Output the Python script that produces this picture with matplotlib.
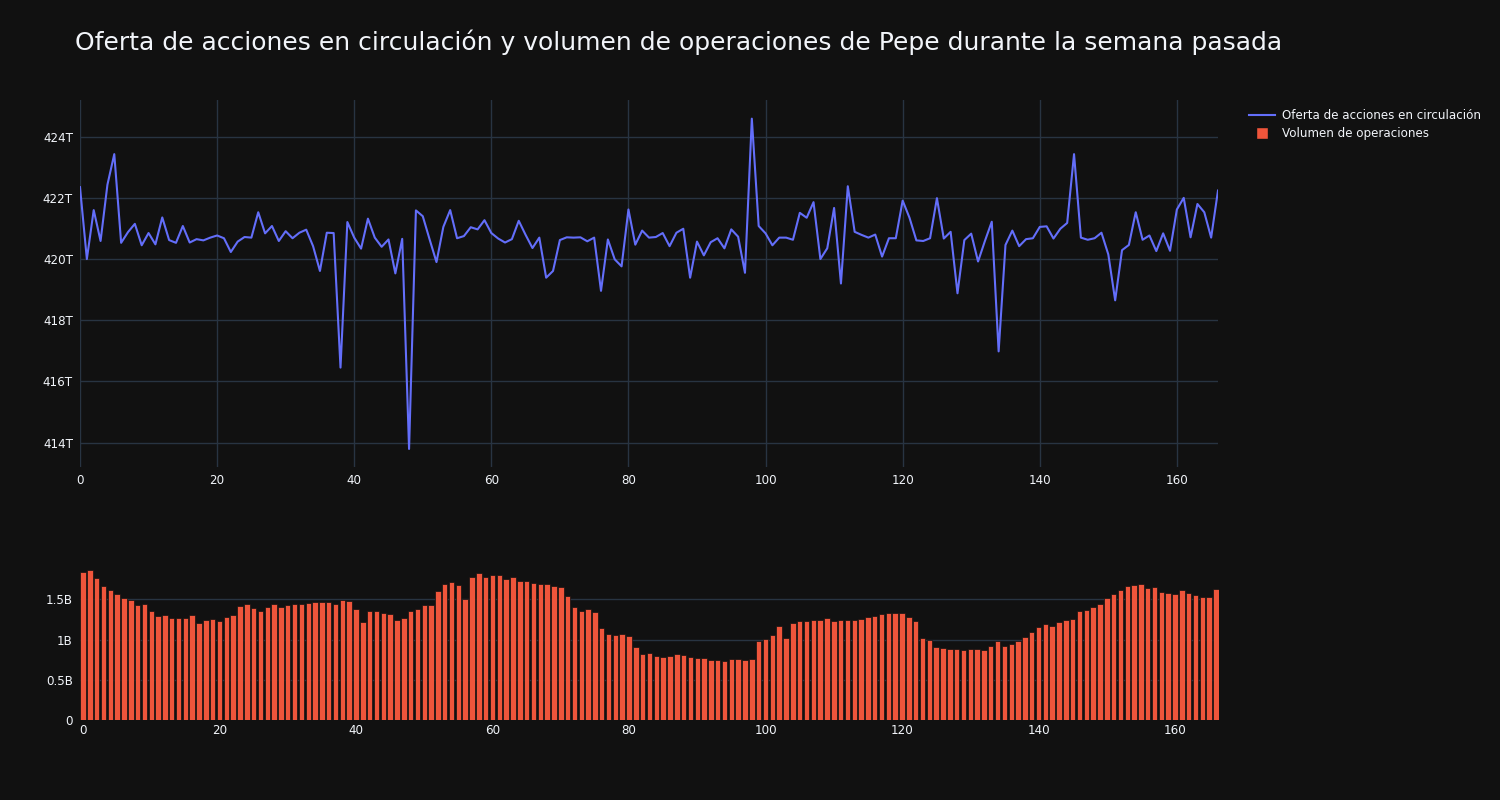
import matplotlib
matplotlib.use("Agg")
import matplotlib.pyplot as plt
from matplotlib.lines import Line2D
from matplotlib.ticker import FuncFormatter
import numpy as np

TITLE = "Oferta de acciones en circulación y volumen de operaciones de Pepe durante la semana pasada"
LINE_LABEL = "Oferta de acciones en circulación"
BAR_LABEL = "Volumen de operaciones"

# circulating supply, in trillions (T)
supply_t = [
    422.35, 420.00, 421.60, 420.59, 422.43, 423.43, 420.53, 420.88, 421.15, 420.45,
    420.85, 420.48, 421.36, 420.62, 420.53, 421.08, 420.54, 420.65, 420.61, 420.70,
    420.77, 420.68, 420.23, 420.57, 420.72, 420.70, 421.53, 420.84, 421.08, 420.59,
    420.91, 420.68, 420.86, 420.96, 420.42, 419.61, 420.86, 420.85, 416.45, 421.21,
    420.70, 420.34, 421.32, 420.70, 420.40, 420.64, 419.53, 420.66, 413.79, 421.59,
    421.40, 420.64, 419.90, 421.05, 421.60, 420.68, 420.75, 421.04, 420.97, 421.27,
    420.85, 420.67, 420.54, 420.65, 421.25, 420.79, 420.36, 420.70, 419.39, 419.61,
    420.62, 420.71, 420.70, 420.71, 420.58, 420.70, 418.96, 420.64, 419.99, 419.76,
    421.62, 420.47, 420.93, 420.70, 420.72, 420.85, 420.42, 420.86, 420.99, 419.39,
    420.57, 420.12, 420.55, 420.68, 420.35, 420.97, 420.73, 419.55, 424.59, 421.08,
    420.84, 420.45, 420.70, 420.70, 420.63, 421.51, 421.35, 421.86, 420.00, 420.35,
    421.67, 419.20, 422.38, 420.89, 420.79, 420.70, 420.80, 420.08, 420.68, 420.68,
    421.91, 421.35, 420.61, 420.59, 420.68, 421.99, 420.67, 420.89, 418.88, 420.62,
    420.83, 419.92, 420.59, 421.22, 416.98, 420.46, 420.93, 420.42, 420.65, 420.68,
    421.05, 421.07, 420.67, 420.99, 421.18, 423.43, 420.70, 420.63, 420.68, 420.86,
    420.15, 418.65, 420.29, 420.46, 421.53, 420.63, 420.77, 420.26, 420.84, 420.27,
    421.62, 422.00, 420.71, 421.80, 421.53, 420.70, 422.24,
]

# trading volume, in billions (B)
volume_b = [
    1.844, 1.861, 1.765, 1.674, 1.612, 1.571, 1.513, 1.488, 1.434, 1.442,
    1.355, 1.289, 1.301, 1.272, 1.268, 1.272, 1.301, 1.206, 1.243, 1.256,
    1.227, 1.281, 1.301, 1.417, 1.446, 1.397, 1.359, 1.401, 1.438, 1.409,
    1.434, 1.446, 1.442, 1.450, 1.463, 1.463, 1.463, 1.446, 1.496, 1.484,
    1.380, 1.223, 1.359, 1.351, 1.334, 1.314, 1.247, 1.272, 1.351, 1.380,
    1.430, 1.434, 1.600, 1.690, 1.712, 1.683, 1.500, 1.782, 1.828, 1.786,
    1.807, 1.807, 1.757, 1.774, 1.724, 1.724, 1.703, 1.687, 1.691, 1.666,
    1.658, 1.546, 1.405, 1.355, 1.384, 1.339, 1.144, 1.073, 1.057, 1.073,
    1.040, 0.903, 0.825, 0.833, 0.800, 0.783, 0.800, 0.825, 0.812, 0.783,
    0.767, 0.767, 0.746, 0.746, 0.738, 0.763, 0.763, 0.746, 0.763, 0.982,
    1.007, 1.061, 1.165, 1.024, 1.210, 1.227, 1.227, 1.243, 1.250, 1.264,
    1.237, 1.247, 1.239, 1.239, 1.260, 1.276, 1.289, 1.318, 1.326, 1.326,
    1.334, 1.276, 1.235, 1.015, 0.990, 0.912, 0.895, 0.879, 0.879, 0.866,
    0.879, 0.883, 0.874, 0.916, 0.982, 0.924, 0.941, 0.978, 1.028, 1.094,
    1.156, 1.194, 1.165, 1.223, 1.247, 1.252, 1.351, 1.363, 1.401, 1.438,
    1.517, 1.562, 1.612, 1.666, 1.683, 1.691, 1.641, 1.658, 1.591, 1.575,
    1.571, 1.616, 1.579, 1.550, 1.537, 1.529, 1.625,
]

x_ticks = [0, 20, 40, 60, 80, 100, 120, 140, 160]
supply_ticks = [414, 416, 418, 420, 422, 424]
volume_ticks = [0, 0.5, 1, 1.5]

BG = "#111111"
GRID = "#283442"
TEXT = "#f2f5fa"
BLUE = "#636efa"
RED = "#ef553b"


def style_axes(ax: plt.Axes) -> None:
    ax.set_facecolor(BG)
    for spine in ax.spines.values():
        spine.set_visible(False)
    ax.tick_params(length=0, colors=TEXT, labelsize=8.6)
    ax.set_axisbelow(True)


def fmt_b(v: float, _pos) -> str:
    if v == 0:
        return "0"
    return f"{v:g}B"


plt.rcParams["font.family"] = ["DejaVu Sans"]
fig = plt.figure(figsize=(15, 8), dpi=100, facecolor=BG)

days = np.arange(len(supply_t))

ax1 = fig.add_axes([80 / 1500, 1 - 467 / 800, 1138 / 1500, 367 / 800])
style_axes(ax1)
ax1.plot(days, supply_t, color=BLUE, lw=1.5)
ax1.set_xlim(0, len(supply_t) - 1)
ax1.set_ylim(413.2, 425.2)
ax1.set_xticks(x_ticks)
ax1.set_yticks(supply_ticks)
ax1.yaxis.set_major_formatter(FuncFormatter(lambda v, _p: f"{v:g}T"))
ax1.grid(True, color=GRID, lw=1)
ax1.tick_params(axis="y", pad=5)
ax1.tick_params(axis="x", pad=5)

ax2 = fig.add_axes([79.6 / 1500, 1 - 720 / 800, 1139.8 / 1500, 157 / 800])
style_axes(ax2)
ax2.bar(np.arange(len(volume_b)), volume_b, width=0.8, color=RED,
        edgecolor=BG, linewidth=0.5)
ax2.set_xlim(-0.5, len(volume_b) - 0.5)
ax2.set_ylim(0, max(volume_b) * 1.05)
ax2.set_xticks(x_ticks)
ax2.set_yticks(volume_ticks)
ax2.yaxis.set_major_formatter(FuncFormatter(fmt_b))
ax2.grid(True, axis="y", color=GRID, lw=1)
ax2.tick_params(axis="y", pad=5)
ax2.tick_params(axis="x", pad=3)

fig.text(75 / 1500, 1 - 42 / 800, TITLE, color=TEXT, fontsize=18,
         ha="left", va="center")

handles = [
    Line2D([0], [0], color=BLUE, lw=1.5),
    Line2D([0], [0], color=BG, marker="s", markersize=9,
           markerfacecolor=RED, markeredgecolor=BG, linestyle="none"),
]
fig.legend(handles, [LINE_LABEL, BAR_LABEL], loc="upper left",
           bbox_to_anchor=(1244 / 1500, 1 - 104 / 800), frameon=False,
           labelcolor=TEXT, fontsize=8.6, handlelength=2.2, handletextpad=0.55,
           labelspacing=0.45, borderaxespad=0)

fig.savefig("out.png", dpi=100, facecolor=BG)
plt.close(fig)
